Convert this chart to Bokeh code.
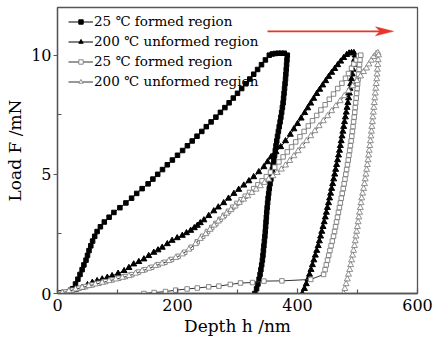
from bokeh.plotting import figure
from bokeh.models import FixedTicker, Legend, LegendItem, Range1d, Arrow
from bokeh.embed import file_html
from bokeh.resources import INLINE

# ---------------------------------------------------------------- data
# Load levels sampled on the unloading branches (mN)
unload_forces = [10.0, 9.8, 9.6, 9.4, 9.2, 9.0, 8.8, 8.6, 8.4, 8.2,
                 8.0, 7.8, 7.6, 7.4, 7.2, 7.0, 6.8, 6.6, 6.4, 6.2,
                 6.0, 5.8, 5.6, 5.4, 5.2, 5.0, 4.8, 4.6, 4.4, 4.2,
                 4.0, 3.8, 3.6, 3.4, 3.2, 3.0, 2.8, 2.6, 2.4, 2.2,
                 2.0, 1.8, 1.6, 1.4, 1.2, 1.0, 0.8, 0.6, 0.4, 0.2, 0.0]

# 25 °C, formed region (filled squares): loading, hold, unloading
f25_depth = ([0, 6, 12, 18, 25, 30, 34, 37.5, 41, 44, 47.5, 50, 52.5, 55.5,
              58.5, 62, 66, 71.5, 78, 86, 94, 104, 114, 123.5, 132, 141, 151,
              159, 167, 175, 183, 191.5, 200, 208.5, 216.5, 224.5, 232.5,
              240.5, 248, 256, 264, 271.5, 279, 286, 293, 300, 307, 314,
              320.5, 327, 333.5, 340, 346.5, 353, 358]
             + [363, 368, 373, 378]
             + [383, 382.4, 381.8, 381.2, 380.6, 380, 379.2, 378.4, 377.6,
                376.8, 376, 374.8, 373.6, 372.3, 371, 369.5, 368.1, 366.7,
                365.4, 364.2, 363, 361.8, 360.6, 359.4, 358.2, 357, 355.6,
                354.2, 353, 352, 351, 350.2, 349.4, 348.7, 348.1, 347.5,
                346.9, 346.3, 345.6, 344.8, 344, 343.2, 342.4, 341.5, 340.3,
                339, 337.6, 336, 334, 331.8, 329])
f25_load = ([0.02, 0.03, 0.04, 0.06, 0.2, 0.4, 0.6, 0.8, 1.0, 1.2, 1.4, 1.6,
             1.8, 2.0, 2.2, 2.4, 2.6, 2.8, 3.0, 3.2, 3.4, 3.6, 3.8, 4.0, 4.2,
             4.4, 4.6, 4.8, 5.0, 5.2, 5.4, 5.6, 5.8, 6.0, 6.2, 6.4, 6.6, 6.8,
             7.0, 7.2, 7.4, 7.6, 7.8, 8.0, 8.2, 8.4, 8.6, 8.8, 9.0, 9.2, 9.4,
             9.6, 9.8, 10.0, 10.05]
            + [10.07, 10.08, 10.08, 10.08]
            + unload_forces)

# 200 °C, unformed region (filled triangles)
u200_depth = ([0, 8, 19, 30, 41, 50, 58, 66, 74.5, 83, 91, 101, 111, 119,
               127, 135.5, 144, 152, 160.5, 167.5, 174.5, 183, 191, 199.5,
               208, 215, 222, 228, 233, 238, 244, 252, 260.5, 268, 277, 285,
               294, 302, 310.5, 319, 327, 335.5, 344, 350, 356, 364, 372,
               380, 388, 394, 400, 406, 412, 417, 422, 427, 432, 437, 442,
               447, 452, 457, 462, 467, 472, 477, 482, 486]
              + [490, 494]
              + [496, 494.8, 493.6, 492.4, 491.2, 490, 488.8, 487.6, 486.4,
                 485.2, 484, 482.6, 481.2, 479.8, 478.4, 477, 475.6, 474.2,
                 472.8, 471.4, 470, 468.4, 466.8, 465.2, 463.6, 462, 460.3,
                 458.6, 456.9, 455.2, 453.5, 451.7, 449.9, 448.1, 446.3,
                 444.5, 442.5, 440.5, 438.5, 436.5, 434.5, 432.1, 429.7,
                 427.3, 424.9, 422.5, 420, 417.4, 414.6, 411.5, 408])
u200_load = ([0, 0.03, 0.1, 0.17, 0.25, 0.36, 0.46, 0.53, 0.6, 0.67, 0.74,
              0.84, 0.95, 1.08, 1.23, 1.33, 1.44, 1.58, 1.72, 1.82, 1.93,
              2.08, 2.22, 2.33, 2.43, 2.54, 2.64, 2.75, 2.85, 2.96, 3.08,
              3.26, 3.46, 3.62, 3.8, 3.99, 4.19, 4.36, 4.54, 4.72, 4.89, 5.1,
              5.31, 5.52, 5.73, 5.94, 6.15, 6.4, 6.67, 6.9, 7.12, 7.35, 7.58,
              7.78, 7.98, 8.18, 8.38, 8.56, 8.74, 8.92, 9.1, 9.27, 9.43,
              9.59, 9.74, 9.89, 10.02, 10.08]
             + [10.1, 10.1]
             + unload_forces)

# 25 °C, formed region, second indent (open squares)
f25b_depth = ([4, 14, 25, 36, 47, 58, 69, 80, 91, 102, 113, 124, 135, 146,
               157, 168, 179, 190, 201, 212, 223, 233, 242, 250, 257, 264,
               271, 278, 285, 292, 299, 306, 313, 320, 327, 334, 341, 348,
               355, 362, 369, 376, 383, 390, 397, 404, 411, 418, 425, 432,
               439, 446, 453, 460, 467, 474, 480, 485, 490, 494, 498, 502]
              + [505.5, 504.2, 503.4, 502.6, 501.8, 501, 500.2, 499.4, 498.6,
                 497.8, 497, 496.2, 495.4, 494.5, 493.5, 492.5, 491.5, 490.5,
                 489.4, 488.2, 487, 485.8, 484.6, 483.3, 481.9, 480.5, 479.1,
                 477.7, 476.2, 474.6, 473, 471.4, 469.8, 468.2, 466.6, 465,
                 463.4, 461.8, 460, 458, 456, 454, 452, 450, 448, 446, 443.5]
              + [422, 374, 344, 325, 305, 288, 269, 252, 233, 216, 197, 180,
                 161, 144])
f25b_load = ([0.01, 0.06, 0.14, 0.22, 0.29, 0.36, 0.43, 0.5, 0.57, 0.64,
              0.71, 0.79, 0.9, 1.0, 1.1, 1.21, 1.31, 1.43, 1.56, 1.73, 1.94,
              2.17, 2.4, 2.6, 2.77, 2.94, 3.11, 3.28, 3.45, 3.62, 3.78, 3.93,
              4.08, 4.24, 4.4, 4.56, 4.73, 4.9, 5.09, 5.3, 5.52, 5.73, 5.94,
              6.15, 6.36, 6.58, 6.8, 7.03, 7.25, 7.47, 7.7, 7.92, 8.15, 8.37,
              8.6, 8.82, 9.03, 9.23, 9.45, 9.63, 9.8, 9.96]
             + unload_forces[:47]
             + [0.59, 0.53, 0.52, 0.46, 0.44, 0.38, 0.31, 0.28, 0.23, 0.19,
                0.14, 0.08, 0.04, 0.0])

# 200 °C, unformed region, second indent (open triangles)
u200b_depth = ([0, 8, 19, 30, 41, 52, 63, 74.5, 86, 97, 108, 119, 130, 141,
                152, 163, 174, 185.5, 197, 208, 219, 230, 238, 247, 254, 261,
                268, 275, 282, 289, 296, 303, 310, 317, 324, 331, 338, 345,
                352, 359, 366, 373, 380, 387, 394, 401, 408, 415, 422, 429,
                436, 443, 450, 457, 464, 471, 478, 485, 492, 499, 505, 510,
                515, 519, 523, 527, 531]
               + [534]
               + [535, 534.4, 533.8, 533.2, 532.6, 532, 531.2, 530.4, 529.6,
                  528.8, 528, 527.2, 526.4, 525.6, 524.8, 524, 523.2, 522.4,
                  521.5, 520.5, 519.5, 518.5, 517.5, 516.4, 515.2, 514,
                  512.8, 511.6, 510.2, 508.6, 507, 505.8, 504.6, 503.4,
                  502.2, 501, 499.8, 498.6, 497.4, 496.2, 495, 493.4, 491.8,
                  490.2, 488.6, 487, 485, 483, 481, 479, 477])
u200b_load = ([0.0, 0.03, 0.1, 0.18, 0.25, 0.32, 0.39, 0.46, 0.53, 0.6, 0.67,
               0.74, 0.84, 0.95, 1.05, 1.16, 1.26, 1.37, 1.5, 1.65, 1.85,
               2.08, 2.3, 2.5, 2.68, 2.86, 3.03, 3.2, 3.36, 3.51, 3.66, 3.81,
               3.95, 4.09, 4.23, 4.37, 4.51, 4.65, 4.79, 4.93, 5.07, 5.21,
               5.38, 5.57, 5.77, 5.98, 6.19, 6.4, 6.61, 6.82, 7.03, 7.24,
               7.45, 7.66, 7.87, 8.08, 8.29, 8.5, 8.71, 8.92, 9.12, 9.3,
               9.45, 9.62, 9.78, 9.93, 10.05]
              + [10.1]
              + unload_forces)

legend_labels = ["25 ℃ formed region", "200 ℃ unformed region",
                 "25 ℃ formed region", "200 ℃ unformed region"]

x_ticks = [0, 200, 400, 600]
x_minor = [100, 300, 500]
y_ticks = [0, 5, 10]
y_minor = [2.5, 7.5]

# direction arrow (depth from, depth to, load level)
arrow_from, arrow_to, arrow_level = 350, 560, 11.0

# ---------------------------------------------------------------- figure
SERIF = "DejaVu Serif"
AXIS_GREY = "#555555"

p = figure(width=442, height=340, output_backend="svg", toolbar_location=None,
           x_range=Range1d(0, 600), y_range=Range1d(0, 12),
           min_border_left=57, min_border_right=25,
           min_border_top=7, min_border_bottom=47,
           x_axis_label="Depth h /nm", y_axis_label="Load F /mN")
p.grid.visible = False
p.outline_line_color = AXIS_GREY
p.outline_line_width = 1.3
p.background_fill_color = "white"
p.border_fill_color = "white"

for ax in (p.xaxis[0], p.yaxis[0]):
    ax.axis_line_color = AXIS_GREY
    ax.axis_line_width = 1.3
    ax.major_tick_line_color = AXIS_GREY
    ax.minor_tick_line_color = AXIS_GREY
    ax.major_tick_line_width = 1.2
    ax.minor_tick_line_width = 1.2
    ax.minor_tick_in = 4
    ax.minor_tick_out = 0
    ax.major_label_text_font = SERIF
    ax.major_label_text_font_size = "16px"
    ax.major_label_text_color = "black"
    ax.axis_label_text_font = SERIF
    ax.axis_label_text_font_size = "17px"
    ax.axis_label_text_font_style = "normal"
    ax.axis_label_text_color = "black"

p.xaxis.ticker = FixedTicker(ticks=x_ticks, minor_ticks=x_minor)
p.yaxis.ticker = FixedTicker(ticks=y_ticks, minor_ticks=y_minor)
p.xaxis.major_tick_in = 5
p.xaxis.major_tick_out = 0
p.yaxis.major_tick_in = 0
p.yaxis.major_tick_out = 4
p.xaxis.major_label_standoff = 5
p.yaxis.major_label_standoff = 2
p.xaxis.axis_label_standoff = 2
p.yaxis.axis_label_standoff = 3

# ---------------------------------------------------------------- curves
series = [
    (f25_depth, f25_load, "square", 4.5, "black", "black", "black", 1),
    (u200_depth, u200_load, "triangle", 6, "black", "black", "black", 1),
    (f25b_depth, f25b_load, "square", 4.5, "#333333", "#7a7a7a", "white", 0.9),
    (u200b_depth, u200b_load, "triangle", 6, "#333333", "#858585", "white", 0.9),
]

items = []
for (xs, ys, marker, size, lcol, mcol, fcol, mlw), label in zip(series, legend_labels):
    ln = p.line(xs, ys, line_color=lcol, line_width=1)
    sc = p.scatter(xs, ys, marker=marker, size=size, line_color=mcol,
                   fill_color=fcol, line_width=mlw)
    items.append(LegendItem(label=label, renderers=[ln, sc]))

legend = Legend(items=items, location=(11, 202))
legend.border_line_alpha = 0
legend.background_fill_alpha = 0
legend.label_text_font = SERIF
legend.label_text_font_size = "13.5px"
legend.label_text_color = "black"
legend.glyph_width = 25
legend.glyph_height = 11
legend.label_height = 20
legend.spacing = 0
legend.padding = 0
legend.margin = 0
legend.label_standoff = 1
p.add_layout(legend)

# ---------------------------------------------------------------- arrow
RED = "#e8352b"
head_len = 30      # nm
head_half = 0.19   # mN
p.add_layout(Arrow(x_start=arrow_from, y_start=arrow_level,
                   x_end=arrow_to - head_len * 0.7, y_end=arrow_level,
                   line_color=RED, line_width=1.6, end=None))
p.patch([arrow_to, arrow_to - head_len, arrow_to - head_len * 0.75,
         arrow_to - head_len],
        [arrow_level, arrow_level + head_half, arrow_level,
         arrow_level - head_half],
        fill_color=RED, line_color=RED, line_width=0.5)

open("out.html", "w").write(file_html(p, INLINE))
